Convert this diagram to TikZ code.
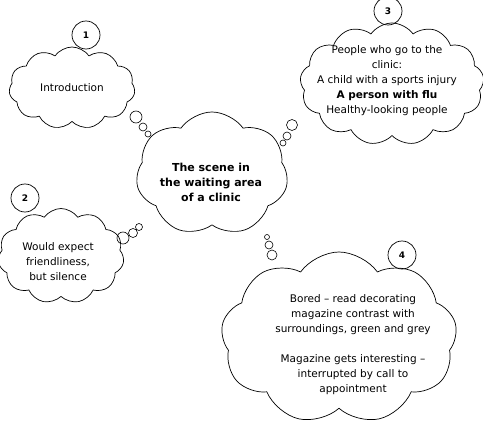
\documentclass[tikz,border=0pt]{standalone}
\usepackage{fontspec}
\setmainfont{DejaVu Sans}
\usetikzlibrary{shapes.symbols}
\begin{document}
\begin{tikzpicture}[x=1pt, y=-1pt, line cap=round, line join=round,
    thought/.style={cloud, cloud puffs=10, cloud puff arc=110, cloud ignores aspect, draw, line width=0.7pt, inner sep=0pt},
    bub/.style={circle, draw, line width=0.6pt, inner sep=0pt},
    num/.style={circle, draw, line width=0.7pt, minimum size=28pt, inner sep=0pt, font=\bfseries\small},
    txt/.style={align=center, font=\fontsize{10.5}{15}\selectfont}]
  \useasboundingbox (0,0) rectangle (483,428);
  % clouds
  \node[thought, cloud puffs=11, minimum width=126pt, minimum height=82pt] (intro) at (72,88) {};
  \node[thought, cloud puffs=7, minimum width=152pt, minimum height=124pt] (scene) at (212,174) {};
  \node[thought, cloud puffs=11, minimum width=126pt, minimum height=95pt] (expect) at (61,256) {};
  \node[thought, cloud puffs=13, minimum width=184pt, minimum height=122pt] (people) at (392,84) {};
  \node[thought, cloud puffs=9, minimum width=236pt, minimum height=172pt] (bored) at (339,338) {};
  % texts
  \node[txt] (introtext) at (intro.center) {Introduction};
  \node[txt, font=\fontsize{11}{15}\selectfont\bfseries] (scenetext) at (211,182) {The scene in\\the waiting area\\of a clinic};
  \node[txt] (expecttext) at (58,262) {Would expect\\friendliness,\\but silence};
  \node[txt] (peopletext) at (387,81) {People who go to the\\clinic:\\A child with a sports injury\\\textbf{A person with flu}\\Healthy-looking people};
  \node[txt] (boredtext) at (353,345) {Bored -- read decorating\\magazine contrast with\\surroundings, green and grey\\[15pt]Magazine gets interesting --\\interrupted by call to\\appointment};
  % numbers
  \node[num] (n1) at (86,35) {1};
  \node[num] (n2) at (25,198) {2};
  \node[num] (n3) at (388,11) {3};
  \node[num] (n4) at (402,255) {4};
  % thought bubbles
  \foreach \p/\s [count=\i] in {(136,117)/12, (143,127)/8, (148,134)/6,
      (123,238)/12, (133,233)/9, (139,227)/7,
      (292,125)/11, (287,136)/8, (283,143)/6,
      (267,237)/5, (269,245)/8, (272,255)/10}
    \node[bub, minimum size=\s pt] (b\i) at \p {};
\end{tikzpicture}
\end{document}
